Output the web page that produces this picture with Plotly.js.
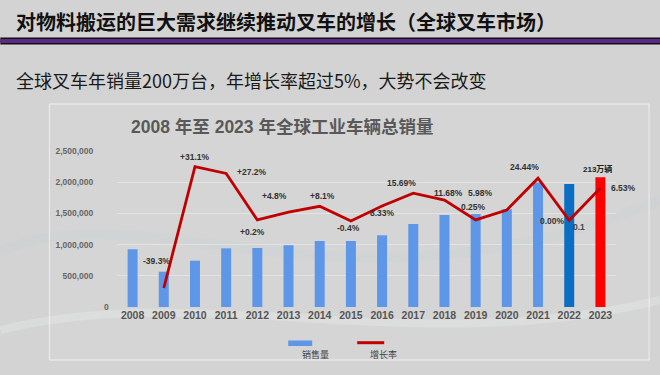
<!DOCTYPE html>
<html>
<head>
<meta charset="utf-8">
<script src="https://cdn.plot.ly/plotly-3.0.1.min.js"></script>
<style>html,body{margin:0;padding:0;background:#d3d3d3;}#chart{width:660px;height:375px;}</style>
</head>
<body>
<div id="chart"></div>
<script>
// ---- data ----
const years = ['2008','2009','2010','2011','2012','2013','2014','2015','2016','2017','2018','2019','2020','2021','2022','2023'];
const sales = [925000, 566000, 742000, 940000, 946000, 990000, 1058000, 1058000, 1149000, 1330000, 1474000, 1490000, 1565000, 1995000, 1970000, 2080000];
const growth = [null, -39.3, 31.1, 27.2, 0.2, 4.8, 8.1, -0.4, 8.33, 15.69, 11.68, 0.25, 5.98, 24.44, 0.0, 18.75];
const growthLabels = ['', '-39.3%', '+31.1%', '+27.2%', '+0.2%', '+4.8%', '+8.1%', '-0.4%', '8.33%', '15.69%', '11.68%', '0.25%', '5.98%', '24.44%', '0.00%', '6.53%'];
const yTicks = [500000, 1000000, 1500000, 2000000, 2500000];
const yTickText = ['500,000', '1,000,000', '1,500,000', '2,000,000', '2,500,000'];
const lastBarLabel = '213万辆';
const extraLabel = '0.1';

// ---- styling / layout helpers ----
const barColors = years.map((y, i) => i === years.length - 1 ? '#FF0000' : (i === years.length - 2 ? '#0A6EC2' : '#5E96E8'));
const L = 116.7, R = 44.1, T = 151, B = 68, W = 660, H = 375;
const PW = W - L - R, PH = H - T - B;
const px = x => (x - L) / PW;
const py = y => (H - B - y) / PH;
const numFont = 'Liberation Sans, Arial, Noto Sans CJK SC, sans-serif';
const cjkFont = 'Noto Sans CJK SC, sans-serif';

// label offsets (style): [xshift, yshift]
const labelShift = [null, [-7, 27], [0, 10], [26, 1], [-5, -12], [-14, 16], [3, 10], [-2, -7], [0, -7], [-12, 10], [4, 7], [-2, 13], [-26, 17], [-14, 11], [-17, -1], [23, 0]];

const annotations = [];
years.forEach((yr, i) => {
  if (growth[i] === null) return;
  annotations.push({
    x: i, y: growth[i], xref: 'x', yref: 'y2', text: growthLabels[i], showarrow: false,
    xanchor: 'center', yanchor: 'middle',
    xshift: labelShift[i][0], yshift: labelShift[i][1],
    font: {family: numFont, size: 8.5, color: '#333333', weight: 'bold'}
  });
});
annotations.push({x: 14, y: growth[14], xref: 'x', yref: 'y2', text: extraLabel, showarrow: false,
  xanchor: 'center', yanchor: 'middle',
  xshift: 10, yshift: -7, font: {family: numFont, size: 8.5, color: '#444444', weight: 'bold'}});
annotations.push({x: 15, y: sales[15], xref: 'x', yref: 'y', text: lastBarLabel, showarrow: false,
  xanchor: 'center', yanchor: 'middle',
  xshift: -3, yshift: 8, font: {family: numFont, size: 8, color: '#222222', weight: 'bold'}});
annotations.push({x: 0, y: 0, xref: 'paper', yref: 'y', text: '0', showarrow: false, xshift: -11,
  xanchor: 'center', yanchor: 'middle',
  font: {family: numFont, size: 8.5, color: '#666666', weight: 'bold'}});
// headings
annotations.push({x: px(14), y: py(21), xref: 'paper', yref: 'paper', xanchor: 'left', yanchor: 'middle',
  text: '对物料搬运的巨大需求继续推动叉车的增长（全球叉车市场）', showarrow: false,
  font: {family: cjkFont, size: 20, color: '#111111', weight: 'bold'}});
annotations.push({x: px(14), y: py(80), xref: 'paper', yref: 'paper', xanchor: 'left', yanchor: 'middle',
  text: '全球叉车年销量200万台，年增长率超过5%，大势不会改变', showarrow: false,
  font: {family: cjkFont, size: 18, color: '#1a1a1a'}});
annotations.push({x: px(129), y: py(127), xref: 'paper', yref: 'paper', xanchor: 'left', yanchor: 'middle',
  text: '2008 年至 2023 年全球工业车辆总销量', showarrow: false,
  font: {family: numFont, size: 17.5, color: '#595959', weight: 'bold'}});
// legend labels
annotations.push({x: px(315), y: py(354), xref: 'paper', yref: 'paper', xanchor: 'center', yanchor: 'middle',
  text: '销售量', showarrow: false, font: {family: cjkFont, size: 9, color: '#444444'}});
annotations.push({x: px(383), y: py(354), xref: 'paper', yref: 'paper', xanchor: 'center', yanchor: 'middle',
  text: '增长率', showarrow: false, font: {family: cjkFont, size: 9, color: '#444444'}});

const shapes = [
  // header band
  {type: 'rect', xref: 'paper', yref: 'paper', x0: px(0), x1: px(660), y0: py(37.5), y1: py(44.5), fillcolor: '#111111', line: {width: 0}, layer: 'below'},
  {type: 'rect', xref: 'paper', yref: 'paper', x0: px(0), x1: px(660), y0: py(39), y1: py(43), fillcolor: '#5B2A86', line: {width: 0}, layer: 'below'},
  // faint background swirls
  {type: 'path', xref: 'paper', yref: 'paper', layer: 'below',
   path: `M ${px(0)} ${py(250)} C ${px(150)} ${py(190)}, ${px(350)} ${py(330)}, ${px(660)} ${py(200)}`,
   line: {color: 'rgba(200,207,213,0.3)', width: 10}},
  {type: 'path', xref: 'paper', yref: 'paper', layer: 'below',
   path: `M ${px(0)} ${py(330)} C ${px(200)} ${py(280)}, ${px(420)} ${py(360)}, ${px(660)} ${py(300)}`,
   line: {color: 'rgba(235,238,240,0.3)', width: 8}},
  // chart box
  {type: 'rect', xref: 'paper', yref: 'paper', x0: px(49), x1: px(649), y0: py(360), y1: py(104),
   fillcolor: 'rgba(255,255,255,0.06)', line: {color: 'rgba(245,245,245,0.8)', width: 1}, layer: 'below'},
  // legend marks
  {type: 'rect', xref: 'paper', yref: 'paper', x0: px(288), x1: px(312), y0: py(346), y1: py(340.5), fillcolor: '#5E96E8', line: {width: 0}},
  {type: 'line', xref: 'paper', yref: 'paper', x0: px(357), x1: px(384), y0: py(342.7), y1: py(342.7), line: {color: '#C00000', width: 3}}
];

const traces = [
  {type: 'bar', x: years, y: sales, marker: {color: barColors}, hoverinfo: 'skip', showlegend: false},
  {type: 'scatter', mode: 'lines', x: years, y: growth, yaxis: 'y2', line: {color: '#C00000', width: 2.8},
   connectgaps: false, hoverinfo: 'skip', showlegend: false}
];

const layout = {
  width: W, height: H,
  margin: {l: L, r: R, t: T, b: B, pad: 0},
  paper_bgcolor: '#d3d3d3', plot_bgcolor: 'rgba(0,0,0,0)',
  bargap: 0.68,
  showlegend: false,
  xaxis: {type: 'category', range: [-0.5, years.length - 0.5], autorange: false, showgrid: false, zeroline: false, showline: false, ticks: '',
    tickfont: {family: numFont, size: 10.5, color: '#555555', weight: 'bold'}, fixedrange: true},
  yaxis: {range: [0, 2500000], autorange: false, tickvals: yTicks, ticktext: yTickText, showgrid: true,
    gridcolor: 'rgba(255,255,255,0.35)', gridwidth: 1, zeroline: false, showline: false,
    ticks: 'outside', ticklen: 21, tickcolor: 'rgba(0,0,0,0)',
    tickfont: {family: numFont, size: 8.5, color: '#666666', weight: 'bold'}, fixedrange: true},
  yaxis2: {range: [-50.3, 40.2], autorange: false, overlaying: 'y', side: 'right', showgrid: false, zeroline: false,
    showline: false, showticklabels: false, ticks: '', fixedrange: true},
  annotations: annotations,
  shapes: shapes
};

Plotly.newPlot('chart', traces, layout, {displayModeBar: false, staticPlot: true});
</script>
</body>
</html>
